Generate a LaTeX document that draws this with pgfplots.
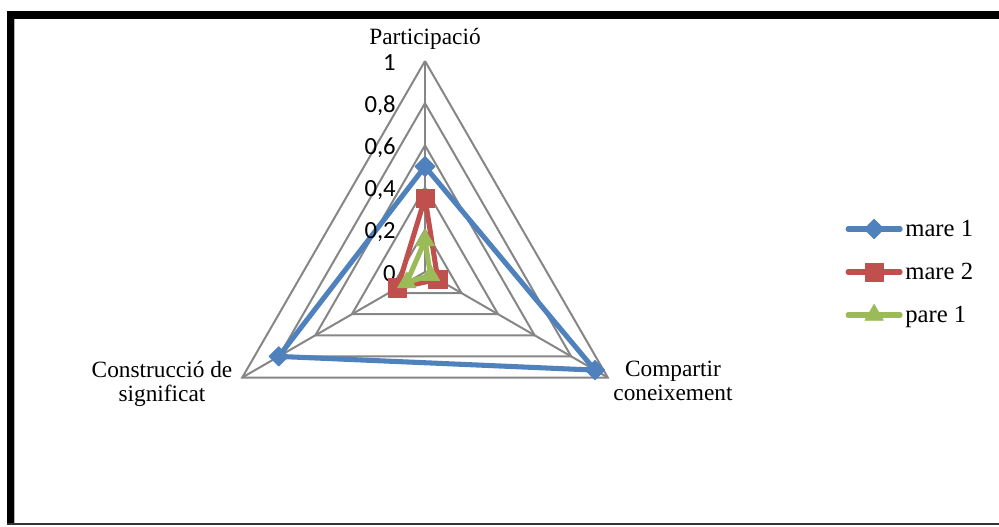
\documentclass[border=0pt]{standalone}
\usepackage{fontspec}
\setmainfont{Liberation Serif}
\newfontfamily\tickfont{Carlito}
\usepackage{pgfplots}
\pgfplotsset{compat=1.18}
\usepgfplotslibrary{polar}

\definecolor{serBlue}{RGB}{79,129,189}
\definecolor{serRed}{RGB}{192,80,77}
\definecolor{serGreen}{RGB}{155,187,89}
\definecolor{gridGray}{RGB}{134,134,134}

\begin{document}
\begin{tikzpicture}
\clip (0pt,0pt) rectangle (749.25pt,394.5pt);
% chart frame
\fill[black] (5.25pt,1.5pt) rectangle (10.5pt,386.25pt);
\fill[black] (5.25pt,380.25pt) rectangle (760pt,386.25pt);
\fill[gray!60] (10.5pt,1.5pt) rectangle (11.25pt,380.25pt);
\fill[black!80] (5.25pt,0.75pt) rectangle (760pt,1.9pt);

\begin{polaraxis}[
  at={(318.75pt,190.5pt)}, anchor=origin,
  scale only axis, width=316.5pt, height=316.5pt,
  xmin=0, xmax=360, ymin=0, ymax=1,
  hide axis, grid=none, clip=false,
  legend style={at={(1.496,0.5)}, anchor=west, draw=none, fill=none,
    inner sep=0pt, row sep=14.5pt, column sep=0pt,
    font=\fontsize{18.5pt}{20pt}\selectfont},
  legend cell align=left,
  legend image code/.code={\draw[#1, line cap=round, mark repeat=2, mark phase=2]
    plot coordinates {(0pt,0pt) (19.5pt,0pt) (39pt,0pt)};},
]
% triangular grid
\addplot[gridGray, line width=1.5pt, forget plot] coordinates {(90,0.2) (330,0.2) (210,0.2) (90,0.2)};
\addplot[gridGray, line width=1.5pt, forget plot] coordinates {(90,0.4) (330,0.4) (210,0.4) (90,0.4)};
\addplot[gridGray, line width=1.5pt, forget plot] coordinates {(90,0.6) (330,0.6) (210,0.6) (90,0.6)};
\addplot[gridGray, line width=1.5pt, forget plot] coordinates {(90,0.8) (330,0.8) (210,0.8) (90,0.8)};
\addplot[gridGray, line width=1.5pt, forget plot] coordinates {(90,1) (330,1) (210,1) (90,1)};
% spokes
\addplot[gridGray, line width=1.5pt, forget plot] coordinates {(0,0) (90,1)};
\addplot[gridGray, line width=1.5pt, forget plot] coordinates {(0,0) (330,1)};
\addplot[gridGray, line width=1.5pt, forget plot] coordinates {(0,0) (210,1)};

% series: Participació (90), Compartir coneixement (330), Construcció de significat (210)
\addplot[serBlue, line width=3.8pt, line join=round,
  mark=square*, mark size=5.2pt, mark options={rotate=45, line width=0.5pt, fill=serBlue}]
  coordinates {(90,0.5) (330,0.93) (210,0.8) (90,0.5)};
\addlegendentry{mare 1}
\addplot[serRed, line width=3.8pt, line join=round,
  mark=square*, mark size=6.8pt, mark options={line width=0.5pt, fill=serRed}]
  coordinates {(90,0.35) (330,0.07) (210,0.15) (90,0.35)};
\addlegendentry{mare 2}
\addplot[serGreen, line width=3.8pt, line join=round,
  mark=triangle*, mark size=8pt, mark options={line width=0.5pt, fill=serGreen}]
  coordinates {(90,0.15) (330,0.03) (210,0.1) (90,0.15)};
\addlegendentry{pare 1}

% radial value labels
\begin{scope}[every node/.style={anchor=east, inner sep=0pt, xshift=-21.75pt, yshift=-1.5pt,
    font=\tickfont\fontsize{18.5pt}{20pt}\selectfont}]
\node at (axis cs:90,1) {1};
\node at (axis cs:90,0.8) {0,8};
\node at (axis cs:90,0.6) {0,6};
\node at (axis cs:90,0.4) {0,4};
\node at (axis cs:90,0.2) {0,2};
\node at (axis cs:90,0) {0};
\end{scope}
\end{polaraxis}

% category labels
\begin{scope}[every node/.style={inner sep=0pt, align=center,
    font=\fontsize{17.5pt}{18pt}\selectfont}]
\node[anchor=base] at (318.75pt,361pt) {Participació};
\node[anchor=north] at (504.75pt,123.75pt) {Compartir\\coneixement};
\node[anchor=north] at (121.5pt,123.75pt) {Construcció de\\significat};
\end{scope}
\end{tikzpicture}
\end{document}
